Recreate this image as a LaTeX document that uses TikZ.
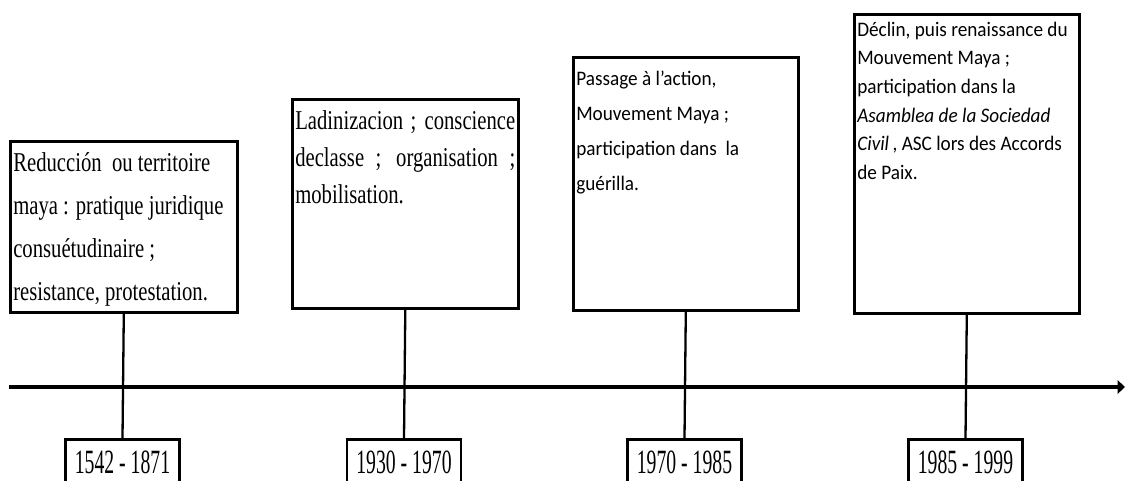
\documentclass[tikz,border=0pt]{standalone}
\usepackage{fontspec}
\setmainfont{Liberation Serif}[FakeStretch=0.76]
\newfontfamily\datefont{Liberation Serif}[FakeStretch=0.58]
\newfontfamily\calfont{Carlito}[FakeStretch=0.93]
\usepackage{tikz}
\usetikzlibrary{positioning, arrows.meta}
\newlength\pxu
\setlength\pxu{0.75pt}

\begin{document}
\begin{tikzpicture}[
	x=0.75pt, y=-0.75pt,
	event/.style={
		draw,
		line width=2.6\pxu,
		anchor=north west,
		inner xsep=3\pxu,
		inner ysep=0pt
	},
	period/.style={
		draw,
		line width=2.6\pxu,
		anchor=north,
		minimum width=114\pxu,
		minimum height=46\pxu,
		inner sep=0pt,
		font=\datefont\fontsize{25.5}{28}\selectfont
	},
	link/.style={line width=2.3\pxu},
	axis/.style={line width=4.5\pxu, -{Triangle[length=5.5pt, width=10pt]}}
	]
	\clip (0,0) rectangle (1126,480);
	
	% First event box
	\node[event] (ev1) at (9,140) {\parbox[t][171\pxu][t]{221\pxu}{\fontsize{20.4}{32.25}\selectfont\raggedright
		\rule{0pt}{30\pxu}Reducción\ \ ou territoire\\
		maya : pratique juridique\\
		consuétudinaire ;\\
		resistance, protestation.}};
	
	% Second event box
	\node[event] (ev2) at (291,98) {\parbox[t][209\pxu][t]{220\pxu}{\fontsize{20.4}{27.75}\selectfont\raggedright
		\rule{0pt}{30\pxu}\makebox[\hsize][s]{Ladinizacion ; conscience}\\
		\makebox[\hsize][s]{declasse ; organisation ;}\\
		mobilisation.}};
	
	% Third event box
	\node[event] (ev3) at (572,56) {\parbox[t][253\pxu][t]{219\pxu}{\calfont\fontsize{15.5}{26.25}\selectfont\raggedright
		\rule{0pt}{28\pxu}Passage à l’action,\\
		Mouvement Maya ;\\
		participation dans\ \ la\\
		guérilla.}};
	
	% Fourth event box
	\node[event] (ev4) at (853,13) {\parbox[t][299\pxu][t]{219\pxu}{\calfont\fontsize{15.5}{21.45}\selectfont\raggedright
		\rule{0pt}{22\pxu}Déclin, puis renaissance du\\
		Mouvement Maya ;\\
		participation dans la\\
		{\itshape Asamblea de la Sociedad}\\
		\textit{Civil}\,, ASC lors des Accords\\
		de Paix.}};
	
	% Date boxes
	\node[period] (d1) at (122.5,438) {1542 - 1871};
	\node[period] (d2) at (404,438) {1930 - 1970};
	\node[period] (d3) at (684.5,438) {1970 - 1985};
	\node[period] (d4) at (965.5,438) {1985 - 1999};
	
	% Time axis
	\coordinate (tstart) at (9,387);
	\coordinate (tend) at (1125,387);
	\draw[axis] (tstart) -- (tend);
	
	% Connect boxes to dates
	\draw[link] (ev1.south) -- (d1.north);
	\draw[link] (ev2.south) -- (d2.north);
	\draw[link] (ev3.south) -- (d3.north);
	\draw[link] (ev4.south) -- (d4.north);
	
\end{tikzpicture}
\end{document}
